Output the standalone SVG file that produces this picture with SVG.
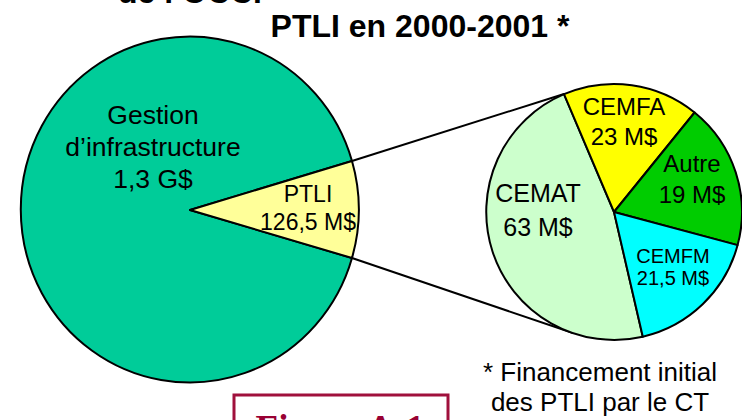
<svg xmlns="http://www.w3.org/2000/svg" width="742" height="420" viewBox="0 0 742 420">
<style>
.t{font-family:"Liberation Sans",Arial,sans-serif;fill:#000;text-anchor:middle}
.b{font-weight:bold}
.o{stroke:#000;stroke-width:2;stroke-linejoin:round}
.c{stroke:#000;stroke-width:2;fill:none}
</style>
<rect width="742" height="420" fill="#fff"/>
<text class="t b" x="190" y="3" font-size="32">de l’OCC.</text>
<text class="t b" x="420" y="37" font-size="32">PTLI en 2000-2001 *</text>
<g id="connectors">
<line class="c" x1="352" y1="161" x2="564" y2="94"/>
<line class="c" x1="352" y1="258" x2="573" y2="333"/>
</g>
<g id="gestion">
<path class="o" fill="#00CC99" d="M190,210 L352,161 A169,173 0 1,0 352,258 Z"/>
<text class="t" font-size="26.5" x="153" y="124">Gestion</text>
<text class="t" font-size="26.5" x="153" y="156">d’infrastructure</text>
<text class="t" font-size="26.5" x="153" y="188">1,3 G$</text>
</g>
<g id="ptli">
<path class="o" fill="#FFFF99" d="M190,210 L352,161 A169,173 0 0,1 352,258 Z"/>
<text class="t" font-size="23" x="308" y="202">PTLI</text>
<text class="t" font-size="23" x="308" y="230">126,5 M$</text>
</g>
<g id="cemat">
<path class="o" fill="#CCFFCC" d="M614,212 L642.8,336.7 A128,128 0 0,1 564,94.2 Z"/>
<text class="t" font-size="25" x="538" y="202">CEMAT</text>
<text class="t" font-size="25" x="538" y="236">63 M$</text>
</g>
<g id="cemfa">
<path class="o" fill="#FFFF00" d="M614,212 L564,94.2 A128,128 0 0,1 694.6,112.5 Z"/>
<text class="t" font-size="24" x="624" y="115">CEMFA</text>
<text class="t" font-size="24" x="624" y="145">23 M$</text>
</g>
<g id="autre">
<path class="o" fill="#00CC00" d="M614,212 L694.6,112.5 A128,128 0 0,1 737.6,245.1 Z"/>
<text class="t" font-size="24" x="692" y="172">Autre</text>
<text class="t" font-size="24" x="692" y="203">19 M$</text>
</g>
<g id="cemfm">
<path class="o" fill="#00FFFF" d="M614,212 L737.6,245.1 A128,128 0 0,1 642.8,336.7 Z"/>
<text class="t" font-size="20" x="673" y="263">CEMFM</text>
<text class="t" font-size="20" x="673" y="285">21,5 M$</text>
</g>
<g id="note">
<text class="t" font-size="26" x="600" y="381">* Financement initial</text>
<text class="t" font-size="26" x="600" y="411">des PTLI par le CT</text>
</g>
<g id="figure">
<rect x="234" y="395" width="214" height="40" fill="none" stroke="#A0103C" stroke-width="3"/>
<text x="340" y="441" font-family="'Liberation Serif','Times New Roman',serif" font-weight="bold" font-size="37" fill="#990033" text-anchor="middle">Figure A-1</text>
</g>
</svg>
